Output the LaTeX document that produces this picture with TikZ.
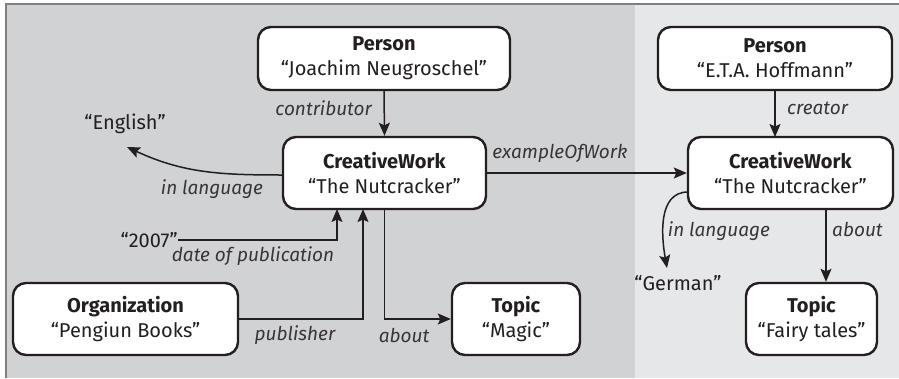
\documentclass[tikz,border=0pt]{standalone}
\usepackage{fontspec}
\setmainfont{Fira Sans}
\usetikzlibrary{arrows.meta}
\definecolor{bgdark}{HTML}{D1D2D4}
\definecolor{bglight}{HTML}{E6E7E8}
\definecolor{framegray}{HTML}{7F7F7F}
\definecolor{ink}{HTML}{231F20}
\tikzset{
  ent/.style={draw=ink, line width=2.4pt, rounded corners=13pt, fill=white,
    align=center, inner sep=0pt, font=\fontsize{20}{25}\selectfont, text=ink},
  lit/.style={inner sep=0pt, font=\fontsize{20}{25}\selectfont, text=ink},
  lab/.style={inner sep=0pt, font=\fontsize{19}{23}\selectfont\itshape, text=ink!90},
  arr/.style={draw=ink, line width=1.5pt, -{Stealth[length=13pt,width=11pt,inset=2.5pt]}},
}
\begin{document}
\begin{tikzpicture}[x=1pt,y=-1pt]
\useasboundingbox (0,0) rectangle (899,378);
% backgrounds
\fill[bgdark] (6,4) rectangle (635,378);
\fill[bglight] (635,4) rectangle (899,378);
\draw[framegray, line width=1.5pt] (6,378) -- (6,4) -- (899,4);

% nodes
\node[ent, minimum width=252pt, minimum height=63pt] (p1) at (384,58.5) {\textbf{Person}\\“Joachim Neugroschel”};
\node[ent, minimum width=203pt, minimum height=72pt] (cw1) at (384.5,173) {\textbf{CreativeWork}\\“The Nutcracker”};
\node[ent, minimum width=225pt, minimum height=72pt] (org) at (125.5,319) {\textbf{Organization}\\“Pengiun Books”};
\node[ent, minimum width=128pt, minimum height=72pt] (magic) at (516,319) {\textbf{Topic}\\“Magic”};
\node[ent, minimum width=234pt, minimum height=63pt] (p2) at (775,58.5) {\textbf{Person}\\“E.T.A. Hoffmann”};
\node[ent, minimum width=205pt, minimum height=72pt] (cw2) at (790.5,173) {\textbf{CreativeWork}\\“The Nutcracker”};
\node[ent, minimum width=131pt, minimum height=72pt] (fairy) at (811.5,319) {\textbf{Topic}\\“Fairy tales”};

\node[lit] (english) at (125,124) {“English”};
\node[lit, anchor=east] (y2007) at (178,240) {“2007”};
\node[lit] (german) at (678,283) {“German”};

% helper coordinates
\coordinate (cwA) at (337,209);
\coordinate (cwB) at (363,209);
\coordinate (ilA) at (283,175);
\coordinate (ilB) at (127,147);
\coordinate (ilC) at (688,192);
\coordinate (ilD) at (667,268);
\coordinate (abA) at (826,209);
\coordinate (crA) at (775,137);

% connectors
\draw[arr] (p1.south) -- (cw1.north);
\draw[arr] (ilA) to[out=180,in=-25] (ilB);
\draw[arr] (y2007.east) -| (cwA);
\draw[arr] (org.east) -| (cwB);
\draw[arr] (cw1.south) |- (magic.west);
\draw[arr] (cw1.east) -- (cw2.west);
\draw[arr] (p2.south) -- (crA);
\draw[arr] (ilC) to[out=180,in=100] (ilD);
\draw[arr] (abA) -- (abA |- fairy.north);

% labels
\node[lab, anchor=east] (lcontrib) at (372,108) {contributor};
\node[lab] (lin1) at (212,189) {in language};
\node[lab] (ldate) at (253,256) {date of publication};
\node[lab] (lpub) at (295,335) {publisher};
\node[lab] (labout1) at (404,335) {about};
\node[lab] (lex) at (560,153) {exampleOfWork};
\node[lab, anchor=west] (lcreator) at (787,108) {creator};
\node[lab] (lin2) at (719,231) {in language};
\node[lab, anchor=west] (labout2) at (832,229) {about};
\end{tikzpicture}
\end{document}
